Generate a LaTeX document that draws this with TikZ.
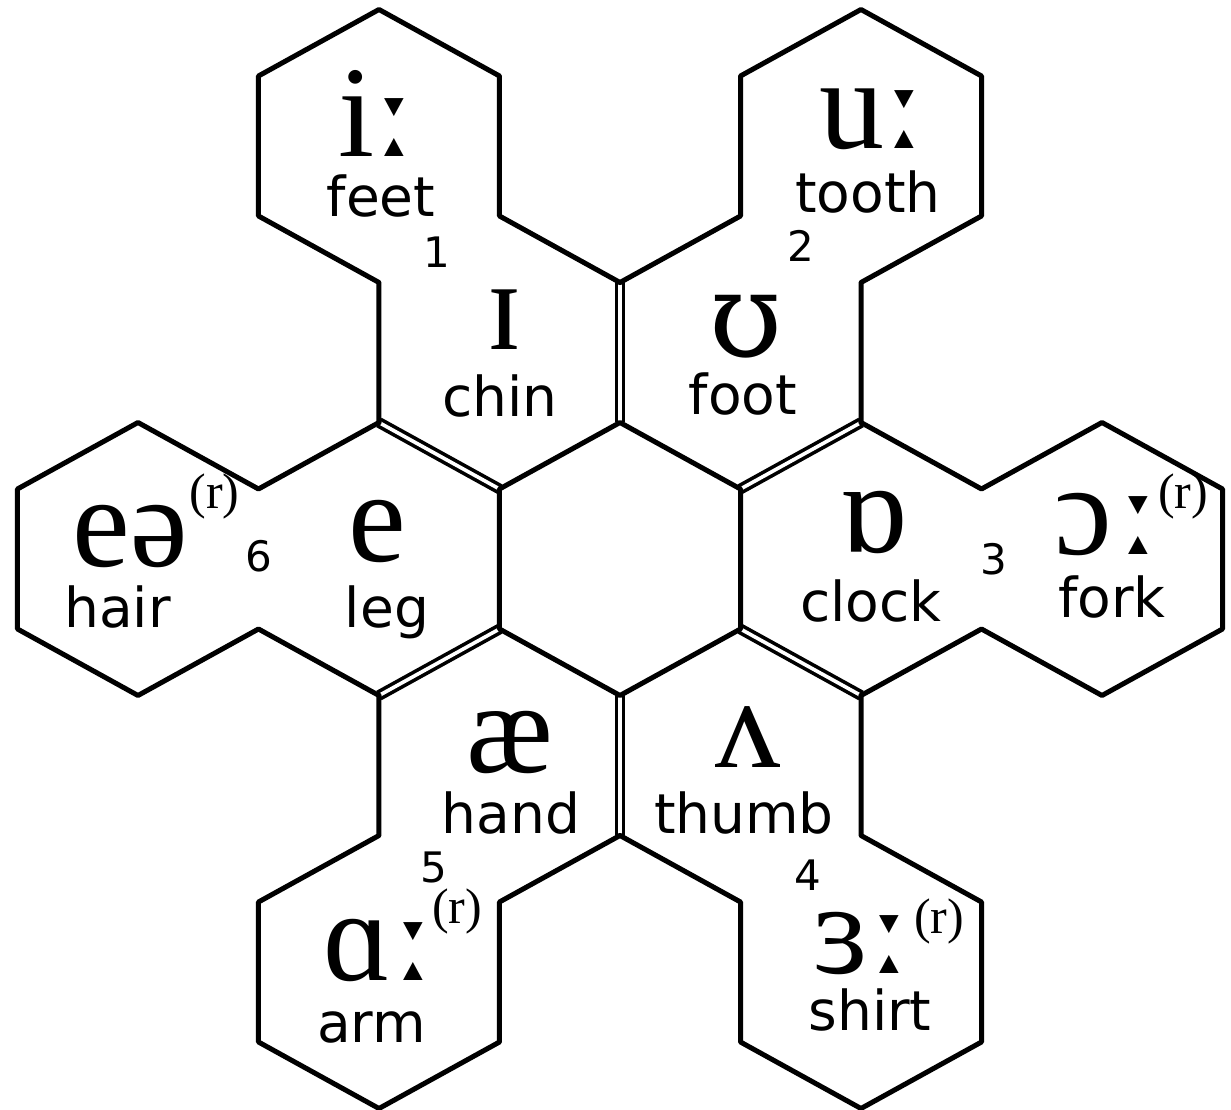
\documentclass[tikz,border=0pt]{standalone}
\usepackage{fontspec}
\setmainfont{Liberation Serif}
\newfontfamily\labfont{DejaVu Sans}
\newfontfamily\lenfont{DejaVu Sans}
\newfontfamily\upsfont{DejaVu Serif}
\newcommand\lenmark{{\lenfont\fontsize{112}{112}\selectfont ː}}
\newcommand\ipaups{{\upsfont\fontsize{118}{118}\selectfont ʊ}}
\usetikzlibrary{calc}
\tikzset{
  edge/.style={line width=5pt, line join=round, line cap=round},
  dbl/.style={line width=3.6pt, double=white, double distance=3.6pt, line cap=butt},
  ipa/.style={inner sep=0pt, anchor=base, font=\fontsize{130}{130}\selectfont},
  word/.style={inner sep=0pt, anchor=base, font=\labfont\fontsize{55}{55}\selectfont},
  num/.style={inner sep=0pt, anchor=base, font=\labfont\fontsize{42}{42}\selectfont},
  rr/.style={inner sep=0pt, anchor=base, font=\fontsize{50}{50}\selectfont},
}
\begin{document}
\begin{tikzpicture}[x=1pt,y=1pt]
\useasboundingbox (-620,-551) rectangle (611,559);
\fill[white] (-620,-551) rectangle (611,559);
\def\W{120.5}\def\R{136.5}\def\H{70}
\foreach \n/\x/\y in {C/0/0, chin/-120.5/206.5, feet/-241/413, foot/120.5/206.5, tooth/241/413,
  clock/241/0, fork/482/0, thumb/120.5/-206.5, shirt/241/-413, hand/-120.5/-206.5, arm/-241/-413,
  leg/-241/0, hair/-482/0}{
  \coordinate (\n) at (\x,\y);
  \coordinate (\n0) at (\x,\y+\R);
  \coordinate (\n1) at (\x+\W,\y+\H);
  \coordinate (\n2) at (\x+\W,\y-\H);
  \coordinate (\n3) at (\x,\y-\R);
  \coordinate (\n4) at (\x-\W,\y-\H);
  \coordinate (\n5) at (\x-\W,\y+\H);
}
% double borders between neighbouring pairs
\draw[dbl] (chin1) -- (chin2);
\draw[dbl] (foot2) -- (foot3);
\draw[dbl] (clock3) -- (clock4);
\draw[dbl] (thumb4) -- (thumb5);
\draw[dbl] (hand5) -- (hand0);
\draw[dbl] (leg0) -- (leg1);
% centre hexagon
\draw[edge] (C0) -- (C1) -- (C2) -- (C3) -- (C4) -- (C5) -- cycle;
% outlines of the six double hexagons
\draw[edge] (chin1) -- (chin0) -- (feet1) -- (feet0) -- (feet5) -- (feet4) -- (feet3) -- (chin4);
\draw[edge] (foot5) -- (foot0) -- (tooth5) -- (tooth0) -- (tooth1) -- (tooth2) -- (tooth3) -- (foot2);
\draw[edge] (clock0) -- (clock1) -- (fork0) -- (fork1) -- (fork2) -- (fork3) -- (fork4) -- (clock3);
\draw[edge] (thumb1) -- (thumb2) -- (shirt1) -- (shirt2) -- (shirt3) -- (shirt4) -- (shirt5) -- (thumb4);
\draw[edge] (hand2) -- (hand3) -- (arm2) -- (arm3) -- (arm4) -- (arm5) -- (arm0) -- (hand5);
\draw[edge] (leg3) -- (leg4) -- (hair3) -- (hair4) -- (hair5) -- (hair0) -- (hair1) -- (leg0);
% texts
\node[ipa] (feetipa) at (-243,402) {i\kern4pt\lenmark};
\node[word] (feetw) at (-239,342) {feet};
\node[num] (n1) at (-183,291) {1};
\node[ipa] (toothipa) at (253,410) {u\kern4pt\lenmark};
\node[word] (toothw) at (248,346) {tooth};
\node[num] (n2) at (181,297) {2};
\node[ipa] (chinipa) at (-115,209) {ɪ};
\node[word] (chinw) at (-120,142) {chin};
\node[ipa] (footipa) at (126,202) {\ipaups};
\node[word] (footw) at (123,144) {foot};
\node[ipa] (legipa) at (-243,-3) {e};
\node[word] (legw) at (-233,-69) {leg};
\node[ipa] (hairipa) at (-490,-8) {eə};
\node[rr] (hairr) at (-405.5,50) {(r)};
\node[word] (hairw) at (-502.5,-69) {hair};
\node[num] (n6) at (-361,-13) {6};
\node[ipa] (clockipa) at (253,6) {ɒ};
\node[word] (clockw) at (251,-63) {clock};
\node[ipa] (forkipa) at (487.5,4) {ɔ\kern10pt\lenmark};
\node[rr] (forkr) at (563,50) {(r)};
\node[word] (forkw) at (492,-59) {fork};
\node[num] (n3) at (374,-16) {3};
\node[ipa] (handipa) at (-110,-213) {æ};
\node[word] (handw) at (-109,-274) {hand};
\node[ipa] (thumbipa) at (128,-208) {ʌ};
\node[word] (thumbw) at (124,-274) {thumb};
\node[ipa] (armipa) at (-241,-421) {ɑ\kern6pt\lenmark};
\node[rr] (armr) at (-163,-364) {(r)};
\node[word] (armw) at (-248.5,-483) {arm};
\node[num] (n5) at (-186,-323) {5};
\node[ipa] (shirtipa) at (242.5,-414) {ɜ\kern6pt\lenmark};
\node[rr] (shirtr) at (319,-374) {(r)};
\node[word] (shirtw) at (250,-471) {shirt};
\node[num] (n4) at (188,-331) {4};
\end{tikzpicture}
\end{document}
